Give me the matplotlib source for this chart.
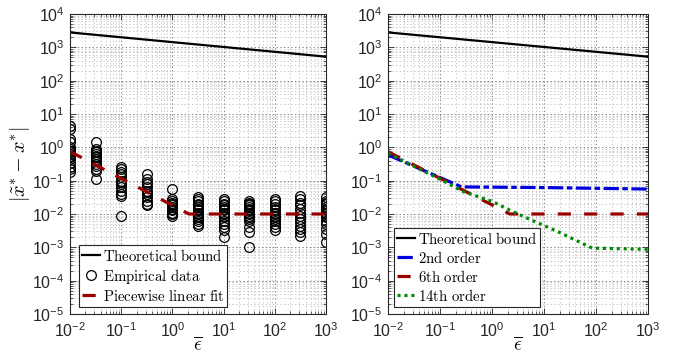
import numpy as np
import matplotlib
matplotlib.use("Agg")
import matplotlib.pyplot as plt
from matplotlib.ticker import LogLocator, NullFormatter

plt.rcParams['font.family'] = ['Liberation Sans', 'DejaVu Sans']
plt.rcParams['mathtext.fontset'] = 'cm'
plt.rcParams['lines.scale_dashes'] = False

# theoretical bound (same on both panels)
bound_eps = [1e-2, 1e3]
bound_val = [2800, 525]

# empirical data, one list per epsilon value
emp_eps = [0.01, 0.0316, 0.1, 0.316, 1, 3.16, 10, 31.6, 100, 316, 1000]
emp_val = [
    [4.5, 3.5, 1.8, 1.4, 1.0, 0.89, 0.79, 0.71, 0.63, 0.56, 0.5, 0.45, 0.35, 0.25, 0.22, 0.18],
    [1.4, 0.89, 0.79, 0.71, 0.63, 0.56, 0.5, 0.45, 0.4, 0.32, 0.28, 0.22, 0.2, 0.11],
    [0.25, 0.22, 0.18, 0.16, 0.13, 0.1, 0.089, 0.079, 0.063, 0.05, 0.04, 0.035, 0.0085],
    [0.16, 0.11, 0.089, 0.079, 0.063, 0.05, 0.045, 0.04, 0.032, 0.025, 0.02, 0.018],
    [0.056, 0.028, 0.025, 0.022, 0.02, 0.018, 0.016, 0.014, 0.013, 0.011, 0.01, 0.0089],
    [0.032, 0.028, 0.025, 0.02, 0.018, 0.016, 0.014, 0.013, 0.011, 0.01, 0.0089, 0.0079, 0.0071, 0.0063, 0.005, 0.0045],
    [0.028, 0.025, 0.02, 0.018, 0.016, 0.014, 0.013, 0.011, 0.01, 0.0089, 0.0079, 0.0063, 0.005, 0.004, 0.0032, 0.002],
    [0.025, 0.022, 0.02, 0.018, 0.016, 0.014, 0.013, 0.011, 0.01, 0.0089, 0.0079, 0.0071, 0.0063, 0.004, 0.0028, 0.00105],
    [0.028, 0.025, 0.02, 0.016, 0.013, 0.011, 0.01, 0.0089, 0.0079, 0.0071, 0.0063, 0.005, 0.004, 0.0032],
    [0.035, 0.028, 0.022, 0.018, 0.014, 0.011, 0.0089, 0.0071, 0.0056, 0.0045, 0.0035, 0.0028, 0.0022],
    [0.032, 0.025, 0.022, 0.02, 0.016, 0.014, 0.013, 0.011, 0.01, 0.0089, 0.0079, 0.0063, 0.005, 0.0035, 0.0025, 0.0014],
]

# piecewise linear fit
fit_eps = [0.01, 2.1, 1000]
fit_val = [0.75, 0.01, 0.01]

# polynomial orders (right panel)
o2_eps = [0.01, 0.26, 1, 10, 100, 1000]
o2_val = [0.59, 0.065, 0.064, 0.062, 0.059, 0.056]
o6_eps = [0.01, 2.2, 1000]
o6_val = [0.74, 0.01, 0.01]
o14_eps = [0.01, 0.1, 0.28, 1, 2.2, 6.7, 20, 65, 85, 1000]
o14_val = [0.67, 0.11, 0.047, 0.024, 0.013, 0.0059, 0.0028, 0.00115, 0.00095, 0.00087]

red = '#990000'
blue = '#0000dd'
green = '#008a00'

fig = plt.figure(figsize=(6.91, 3.58), dpi=100)
ax1 = fig.add_axes([70/691, 44/358, 256/691, 300/358])
ax2 = fig.add_axes([388/691, 44/358, 260/691, 300/358])

def style(ax):
    ax.set_xscale('log')
    ax.set_yscale('log')
    ax.set_xlim(1e-2, 1e3)
    ax.set_ylim(1e-5, 1e4)
    ax.xaxis.set_major_locator(LogLocator(base=10, numticks=20))
    ax.yaxis.set_major_locator(LogLocator(base=10, numticks=20))
    ax.xaxis.set_minor_locator(LogLocator(base=10, subs=np.arange(2, 10), numticks=20))
    ax.yaxis.set_minor_locator(LogLocator(base=10, subs=np.arange(2, 10), numticks=20))
    ax.xaxis.set_minor_formatter(NullFormatter())
    ax.yaxis.set_minor_formatter(NullFormatter())
    ax.grid(which='major', linestyle=':', color='0.45', linewidth=0.6)
    ax.grid(which='minor', linestyle=':', color='0.7', linewidth=0.5)
    ax.tick_params(which='both', direction='in', top=True, right=True, labelsize=11.5, colors='#262626')
    ax.tick_params(axis='x', which='major', pad=5)
    ax.tick_params(axis='y', which='major', pad=4)
    ax.tick_params(which='major', length=4, width=0.6)
    ax.tick_params(which='minor', length=2, width=0.5)
    for s in ax.spines.values():
        s.set_linewidth(0.8)
        s.set_color('#262626')
    ax.set_xlabel(r'$\overline{\epsilon}$', fontsize=14, labelpad=-2)

style(ax1)
style(ax2)

legend_kw = dict(loc='lower left', fontsize=10.7, handlelength=1.2, handletextpad=0.2,
                 borderpad=0.2, labelspacing=0.2, borderaxespad=0,
                 fancybox=False, framealpha=1, edgecolor='#262626')

# left panel
ax1.plot(bound_eps, bound_val, color='k', linewidth=1.6, label=r'$\mathrm{Theoretical\ bound}$')
for i, e in enumerate(emp_eps):
    ax1.plot([e]*len(emp_val[i]), emp_val[i], linestyle='none', marker='o', markersize=7,
             markerfacecolor='none', markeredgecolor='k', markeredgewidth=0.9,
             label=r'$\mathrm{Empirical\ data}$' if i == 0 else None)
ax1.plot(fit_eps, fit_val, color=red, linewidth=2.3, linestyle=(0, (9.5, 9.0)),
         label=r'$\mathrm{Piecewise\ linear\ fit}$')
ax1.set_ylabel(r'$|\tilde{x}^{*}-x^{*}|$', fontsize=14.5, labelpad=0)
leg1 = ax1.legend(bbox_to_anchor=(0.035, 0.025), **legend_kw)
leg1.get_frame().set_linewidth(0.8)

# right panel
ax2.plot(bound_eps, bound_val, color='k', linewidth=1.6, label=r'$\mathrm{Theoretical\ bound}$')
ax2.plot(o2_eps, o2_val, color=blue, linewidth=2.3, linestyle=(0, (11, 2.5, 4, 2.5)),
         label=r'$\mathrm{2nd\ order}$')
ax2.plot(o6_eps, o6_val, color=red, linewidth=2.3, linestyle=(0, (9.5, 9.5)),
         label=r'$\mathrm{6th\ order}$')
ax2.plot(o14_eps, o14_val, color=green, linewidth=2.3, linestyle=(0, (2.2, 2.8)),
         label=r'$\mathrm{14th\ order}$')
leg2 = ax2.legend(bbox_to_anchor=(0.023, 0.025), **legend_kw)
leg2.get_frame().set_linewidth(0.8)

fig.savefig('out.png', dpi=100)
